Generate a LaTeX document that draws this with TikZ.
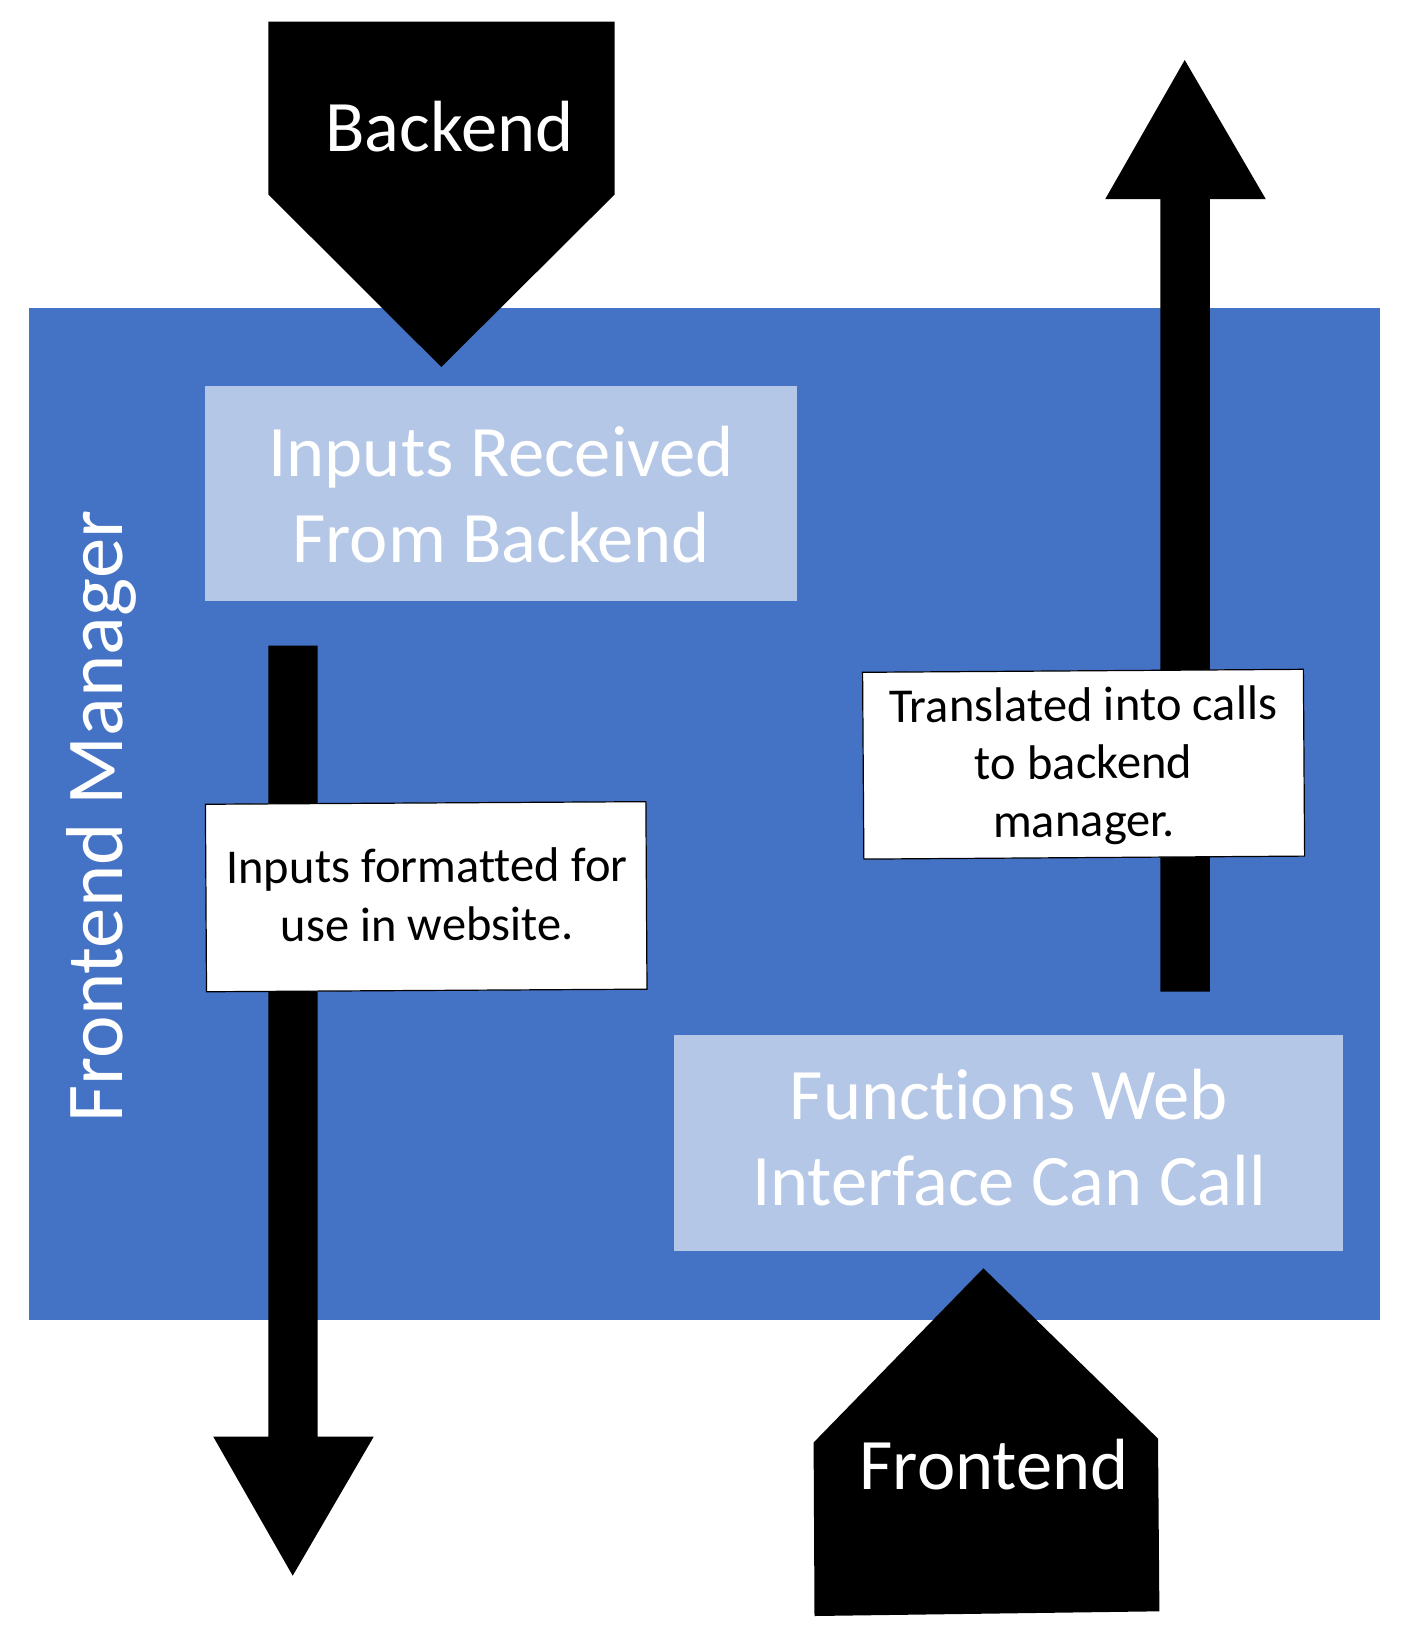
\documentclass[tikz,border=0pt]{standalone}
\usepackage{fontspec}
\setmainfont{Carlito}[Ligatures={NoCommon}]
\definecolor{mgrblue}{HTML}{4472C4}
\definecolor{lightbox}{HTML}{B4C7E7}
\newcommand\mlines[2]{\vtop{\baselineskip=#1\relax\halign{\hfil##\hfil\cr#2\crcr}}}
\begin{document}
\begin{tikzpicture}[x=1pt,y=-1pt,
  bigtext/.style={font=\fontsize{72.5}{86}\selectfont, text=white, inner sep=0pt, anchor=base},
  smalltext/.style={font=\fontsize{48.6}{58}\selectfont, text=black, inner sep=0pt, anchor=base},
  lightrect/.style={fill=lightbox, draw=none, inner sep=0pt},
  notebox/.style={fill=white, draw=black, line width=1.2pt, inner sep=0pt},
  blockshape/.style={fill=black, draw=none}]
\useasboundingbox (0,0) rectangle (1400,1638);
\fill[white] (0,0) rectangle (1400,1638);

% Frontend Manager container
\node[fill=mgrblue, inner sep=0pt, minimum width=1350.2pt, minimum height=1011.6pt] (mgr) at (704.4,813.8) {};

% Backend pentagon (pointing down)
\coordinate (bktip) at (441.3,367);
\fill[blockshape] (268.4,21.7) -- (614.6,21.7) -- (614.6,194.5) -- (bktip) -- (268.4,194.5) -- cycle;

% Inputs received box
\node[lightrect, minimum width=592pt, minimum height=215.5pt] (inbox) at (501,493.25) {};

% Down arrow
\coordinate (dtop) at (293,645.7);
\coordinate (dtip) at (292.7,1575.7);
\fill[blockshape] (268.3,645.7) -- (317.7,645.7) -- (317.7,1436.7) -- (373.7,1436.7)
  -- (dtip) -- (213.3,1436.7) -- (268.3,1436.7) -- cycle;

% Up arrow
\coordinate (utip) at (1184.7,60);
\coordinate (ubot) at (1185,991.7);
\fill[blockshape] (1160.3,991.7) -- (1209.9,991.7) -- (1209.9,199) -- (1265.7,199)
  -- (utip) -- (1105.3,199) -- (1160.3,199) -- cycle;

% Note boxes
\node[notebox, minimum width=440.5pt, minimum height=187.5pt, rotate=0.34] (fmtbox) at (426.2,896.7) {};
\node[notebox, minimum width=440.8pt, minimum height=186.8pt, rotate=0.39] (trbox) at (1083.6,764.2) {};

% Functions box
\node[lightrect, minimum width=668.7pt, minimum height=215.6pt] (fnbox) at (1008.25,1142.8) {};

% Frontend pentagon (pointing up)
\coordinate (fetip) at (983.4,1268.3);
\fill[blockshape] (fetip) -- (1158,1438.6) -- (1159.4,1611.3) -- (814.5,1616) -- (813.6,1442.5) -- cycle;

% Texts
\node[bigtext] (bktext) at (449.4,151.4) {Backend};
\node[bigtext] (intext) at (501.2,476.5) {\mlines{86pt}{Inputs Received\cr From Backend}};
\node[bigtext] (fntext) at (1009,1119.3) {\mlines{86pt}{Functions Web\cr Interface Can Call}};
\node[bigtext] (fetext) at (994,1489) {Frontend};
\node[smalltext, rotate=0.34] (fmttext) at (427,882.3) {\mlines{58.4pt}{Inputs formatted for\cr use in website.}};
\node[smalltext, rotate=0.39] (trtext) at (1083.3,721) {\mlines{57.85pt}{Translated into calls\cr to backend\cr manager.}};
\node[font=\fontsize{80.7}{96}\selectfont, text=white, inner sep=0pt, anchor=base, rotate=90] (mgrtext) at (122,816.5) {Frontend Manager};
\end{tikzpicture}
\end{document}
